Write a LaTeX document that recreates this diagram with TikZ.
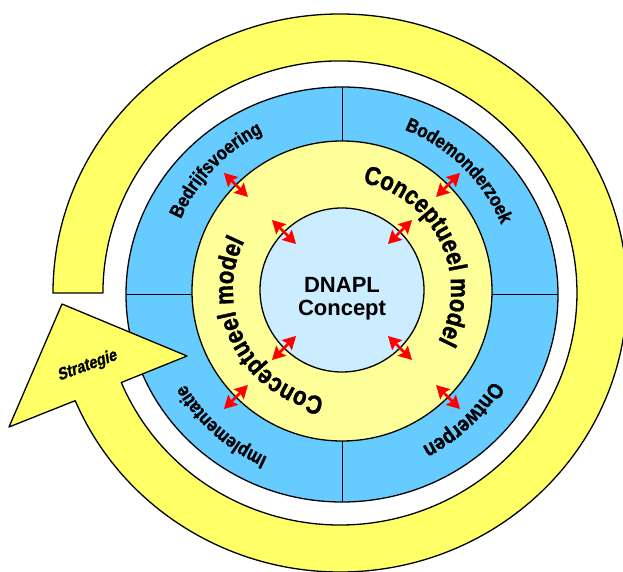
\documentclass[tikz,border=0pt]{standalone}
\usepackage{fontspec}
\setmainfont{Liberation Sans}
\newfontfamily\wordfont{Liberation Sans}[UprightFont={* Bold},FakeStretch=0.85,FakeBold=1.2]
\newfontfamily\slantfont{Liberation Sans}[UprightFont={* Bold},FakeStretch=0.85,FakeBold=1.2,FakeSlant=0.2]
\usepackage{xcolor}
\usepackage{tikz}
\usetikzlibrary{arrows,arrows.meta,shapes.geometric,decorations.text,calc}
\definecolor{arrowyellow}{RGB}{255,255,102}
\definecolor{ringyellow}{RGB}{255,255,153}
\definecolor{ringblue}{RGB}{102,204,255}
\definecolor{coreblue}{RGB}{204,236,255}
\newcommand{\phasefont}{\fontsize{19.5}{22}\wordfont}
\newcommand{\bigphasefont}{\fontsize{22}{24}\wordfont}
\newcommand{\modelfont}{\fontsize{26}{28}\wordfont}

\begin{document}
\begin{tikzpicture}[x=1pt,y=1pt,
  line width=1.3pt,
  core node/.style={circle,draw,fill=coreblue,minimum size=164pt,outer sep=0pt},
  model node/.style={circle,draw,fill=ringyellow,minimum size=300pt,outer sep=0pt},
  phase node/.style={ellipse,draw,fill=ringblue,minimum width=432pt,minimum height=415pt,outer sep=0pt},
  band/.style={draw,fill=arrowyellow,line join=round},
  link/.style={red,line width=2.6pt,
    {Stealth[length=13pt,width=14pt,inset=2pt]}-{Stealth[length=13pt,width=14pt,inset=2pt]}},
  ringtext/.style={decorate,decoration={text along path,text align=center,text={#1}}}]
  \useasboundingbox (-342,-282) rectangle (281,290);

  \node[phase node] (phases) at (0,-4.5) {};
  \draw[line width=1pt] (phases.north) -- (phases.south);
  \draw[line width=1pt] (phases.west) -- (phases.east);

  % big cycle arrow
  \draw[band] (-289,-3) arc[start angle=180,end angle=-157.3,x radius=287,y radius=279]
    -- (-333,-137) -- (-280,-14) -- (-155,-66) -- (-220.7,-92.5)
    arc[start angle=-157.3,end angle=180,x radius=237,y radius=232] -- cycle;
  \node[rotate=20,font=\fontsize{17}{20}\slantfont] (strategy) at (-255,-76) {Strategie};

  \node[model node] (model) at (0,-1) {};
  \draw[link] ($(model.45)!-17pt!(model.center)$) -- ($(model.45)!17pt!(model.center)$);
  \draw[link] ($(model.135)!-17pt!(model.center)$) -- ($(model.135)!17pt!(model.center)$);
  \draw[link] ($(model.225)!-17pt!(model.center)$) -- ($(model.225)!17pt!(model.center)$);
  \draw[link] ($(model.315)!-17pt!(model.center)$) -- ($(model.315)!17pt!(model.center)$);

  \node[core node] (core) at (0,0) {};
  \node[font=\fontsize{22}{23}\selectfont\bfseries,align=center] (concept) at (0,-9) {DNAPL\\Concept};
  \draw[link] ($(core.45)!-17pt!(core.center)$) -- ($(core.45)!17pt!(core.center)$);
  \draw[link] ($(core.135)!-17pt!(core.center)$) -- ($(core.135)!17pt!(core.center)$);
  \draw[link] ($(core.225)!-17pt!(core.center)$) -- ($(core.225)!17pt!(core.center)$);
  \draw[link] ($(core.315)!-17pt!(core.center)$) -- ($(core.315)!17pt!(core.center)$);

  % labels on the rings
  \path[ringtext={|\phasefont|Bedrijfsvoering}] (166.5:176) arc[start angle=166.5,end angle=106.5,radius=176];
  \path[ringtext={|\phasefont|Bodemonderzoek}] (80.5:172) arc[start angle=80.5,end angle=10.5,radius=172];
  \path[ringtext={|\bigphasefont|Ontwerpen}] (-12:176) arc[start angle=-12,end angle=-82,radius=176];
  \path[ringtext={|\phasefont|Implementatie}] (263.5:183) arc[start angle=263.5,end angle=193.5,radius=183];
  \path[ringtext={|\modelfont|Conceptueel model}] (100.5:109) arc[start angle=100.5,end angle=-49.5,radius=109];
  \path[ringtext={|\modelfont|Conceptueel model}] (282:109) arc[start angle=282,end angle=132,radius=109];
\end{tikzpicture}
\end{document}
